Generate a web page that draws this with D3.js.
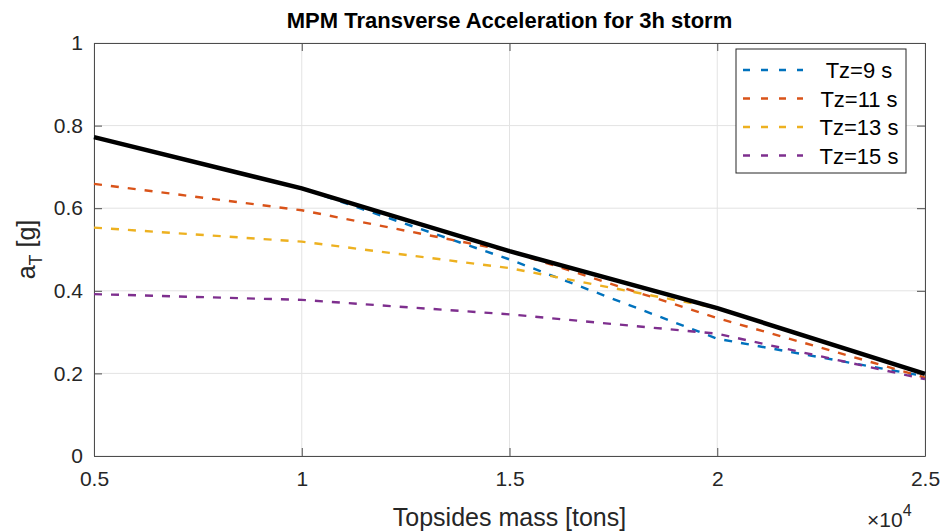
<!DOCTYPE html>
<html>
<head>
<meta charset="utf-8">
<script src="https://cdn.jsdelivr.net/npm/d3@7"></script>
<style>
  body { margin: 0; background: #fff; }
  svg { display: block; font-family: "Liberation Sans", Arial, sans-serif; }
</style>
</head>
<body>
<div id="chart"></div>
<script>
// topsides mass [tons]
const mass = [5000, 10000, 15000, 20000, 25000];

// MPM transverse acceleration [g] per zero-crossing period
const tz9 = [0.772, 0.648, 0.476, 0.284, 0.193];
const tz11 = [0.659, 0.595, 0.496, 0.334, 0.190];
const tz13 = [0.553, 0.519, 0.455, 0.358, 0.199];
const tz15 = [0.392, 0.378, 0.343, 0.296, 0.186];
// design envelope (solid black)
const envelope = [0.772, 0.648, 0.496, 0.358, 0.199];

const seriesNames = ["Tz=9 s", "Tz=11 s", "Tz=13 s", "Tz=15 s"];
const xTicks = [5000, 10000, 15000, 20000, 25000];
const yTicks = [0, 0.2, 0.4, 0.6, 0.8, 1];

const width = 942;
const height = 532;
const margin = { top: 43, right: 17, bottom: 76, left: 94 };
const innerW = width - margin.left - margin.right;
const innerH = height - margin.top - margin.bottom;

const colors = ["#0072BD", "#D95319", "#EDB120", "#7E2F8E"];
const allSeries = [tz9, tz11, tz13, tz15];

const svg = d3.select("#chart")
    .append("svg")
    .attr("width", width)
    .attr("height", height);

const x = d3.scaleLinear().domain([5000, 25000]).range([0, innerW]);
const y = d3.scaleLinear().domain([0, 1]).range([innerH, 0]);

const g = svg.append("g")
    .attr("transform", `translate(${margin.left},${margin.top})`);

// grid
g.append("g")
    .selectAll("line.gx")
    .data(xTicks)
    .enter().append("line")
    .attr("x1", d => x(d)).attr("x2", d => x(d))
    .attr("y1", 0).attr("y2", innerH)
    .attr("stroke", "#e3e3e3").attr("stroke-width", 1);

g.append("g")
    .selectAll("line.gy")
    .data(yTicks)
    .enter().append("line")
    .attr("x1", 0).attr("x2", innerW)
    .attr("y1", d => y(d)).attr("y2", d => y(d))
    .attr("stroke", "#e3e3e3").attr("stroke-width", 1);

// axes (inward ticks on all four sides, like a boxed plot)
const fmtX = d => String(d / 1e4);
const fmtY = d => String(+d.toFixed(1));

const axisStyle = sel => {
    sel.select(".domain").attr("stroke", "#4d4d4d");
    sel.selectAll(".tick line").attr("stroke", "#4d4d4d");
    sel.selectAll(".tick text")
        .attr("fill", "#262626")
        .style("font-size", "21px");
};

g.append("g")
    .attr("transform", `translate(0,${innerH})`)
    .call(d3.axisBottom(x).tickValues(xTicks).tickFormat(fmtX).tickSizeInner(-8).tickSizeOuter(0).tickPadding(15))
    .call(axisStyle);

g.append("g")
    .call(d3.axisTop(x).tickValues(xTicks).tickFormat("").tickSizeInner(-8).tickSizeOuter(0))
    .call(axisStyle);

g.append("g")
    .call(d3.axisLeft(y).tickValues(yTicks).tickFormat(fmtY).tickSizeInner(-8).tickSizeOuter(0).tickPadding(11))
    .call(axisStyle);

g.append("g")
    .attr("transform", `translate(${innerW},0)`)
    .call(d3.axisRight(y).tickValues(yTicks).tickFormat("").tickSizeInner(-8).tickSizeOuter(0))
    .call(axisStyle);

// lines
const line = d3.line()
    .x((d, i) => x(mass[i]))
    .y(d => y(d));

allSeries.forEach((s, i) => {
    g.append("path")
        .datum(s)
        .attr("fill", "none")
        .attr("stroke", colors[i])
        .attr("stroke-width", 2.4)
        .attr("stroke-dasharray", "8,9")
        .attr("d", line);
});

g.append("path")
    .datum(envelope)
    .attr("fill", "none")
    .attr("stroke", "#000")
    .attr("stroke-width", 4.5)
    .attr("d", line);

// title
svg.append("text")
    .attr("x", margin.left + innerW / 2)
    .attr("y", 28)
    .attr("text-anchor", "middle")
    .attr("fill", "#000")
    .style("font-size", "22px")
    .style("font-weight", "bold")
    .text("MPM Transverse Acceleration for 3h storm");

// x label
svg.append("text")
    .attr("x", margin.left + innerW / 2)
    .attr("y", 526)
    .attr("text-anchor", "middle")
    .attr("fill", "#262626")
    .style("font-size", "25px")
    .text("Topsides mass [tons]");

// exponent label
const expo = svg.append("text")
    .attr("x", 867)
    .attr("y", 527)
    .attr("fill", "#262626")
    .style("font-size", "21px");
expo.append("tspan").text("\u00d710");
expo.append("tspan").attr("dy", -11).style("font-size", "16px").text("4");

// y label with subscript
const yl = svg.append("text")
    .attr("transform", `translate(35,${margin.top + innerH / 2}) rotate(-90)`)
    .attr("text-anchor", "middle")
    .attr("fill", "#262626")
    .style("font-size", "25px");
yl.append("tspan").text("a");
yl.append("tspan").attr("dy", 7).style("font-size", "18px").text("T");
yl.append("tspan").attr("dy", -7).text(" [g]");

// legend
const lx = 736, ly = 49, lw = 170, lh = 124;
const legend = svg.append("g");
legend.append("rect")
    .attr("x", lx).attr("y", ly)
    .attr("width", lw).attr("height", lh)
    .attr("fill", "#fff")
    .attr("stroke", "#262626")
    .attr("stroke-width", 1);

seriesNames.forEach((name, i) => {
    const ry = ly + 21 + i * 28.5;
    legend.append("line")
        .attr("x1", lx + 7).attr("x2", lx + 67)
        .attr("y1", ry).attr("y2", ry)
        .attr("stroke", colors[i])
        .attr("stroke-width", 2.4)
        .attr("stroke-dasharray", "7,11");
    legend.append("text")
        .attr("x", lx + 123)
        .attr("y", ry + 8)
        .attr("text-anchor", "middle")
        .attr("fill", "#000")
        .style("font-size", "22px")
        .text(name);
});
</script>
</body>
</html>
